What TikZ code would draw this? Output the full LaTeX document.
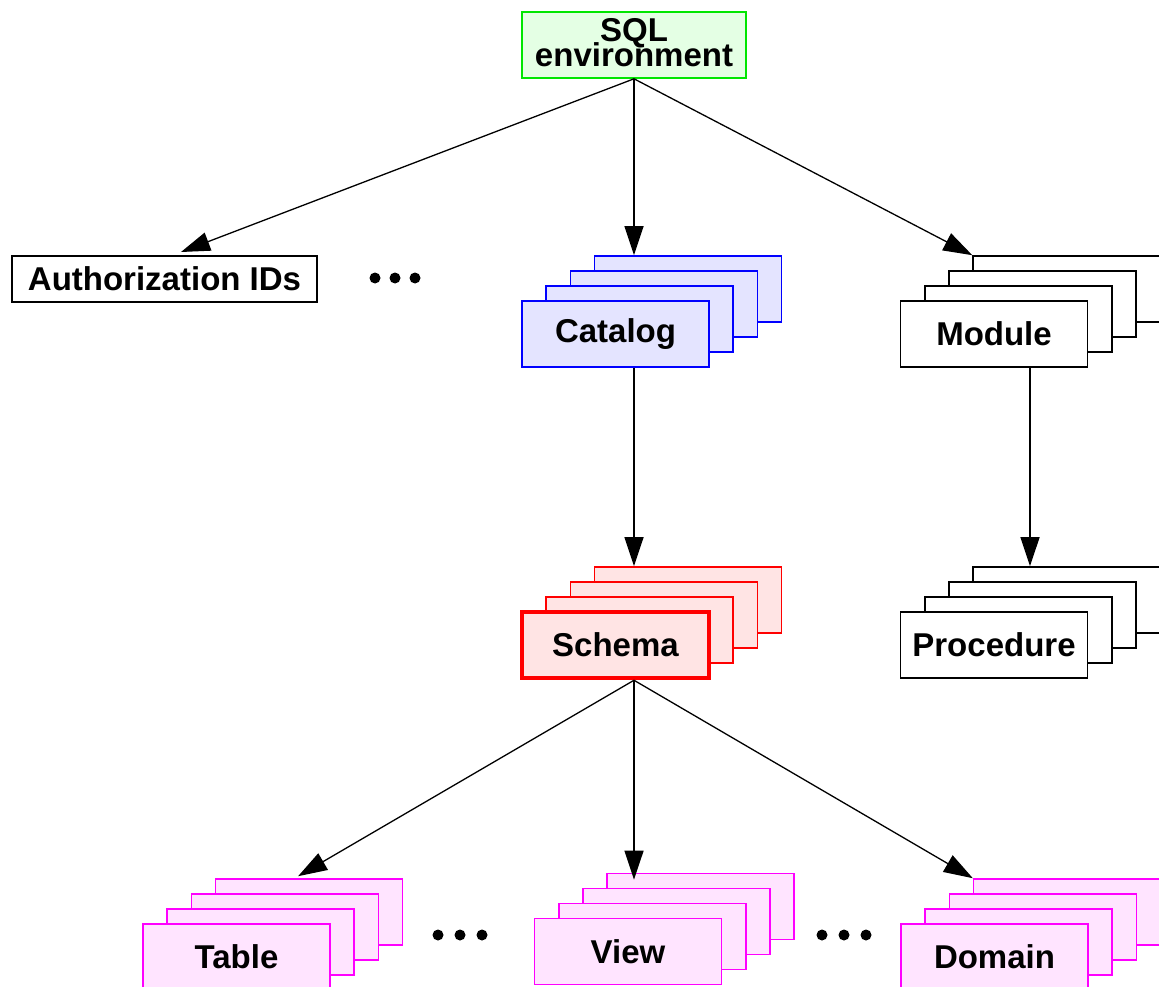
\documentclass[tikz,border=0pt]{standalone}
\usepackage{fontspec}
\setmainfont{Liberation Sans}
\usetikzlibrary{arrows.meta}
\definecolor{envfill}{RGB}{228,255,228}
\definecolor{envdraw}{RGB}{0,230,0}
\definecolor{catfill}{RGB}{228,228,255}
\definecolor{catdraw}{RGB}{0,0,255}
\definecolor{schfill}{RGB}{255,228,228}
\definecolor{schdraw}{RGB}{255,0,0}
\definecolor{objfill}{RGB}{255,228,255}
\definecolor{objdraw}{RGB}{255,0,255}
\newcommand\mytightlines{\lineskiplimit=-50pt\relax\lineskip=0pt\relax}
\begin{document}
\begin{tikzpicture}[x=1pt,y=-1pt,
  box/.style={draw, line width=1.6pt, minimum width=187pt, minimum height=66pt,
    inner sep=0pt, font=\fontsize{33}{36}\selectfont\bfseries, align=center},
  plainbox/.style={box, fill=white, draw=black},
  catbox/.style={box, fill=catfill, draw=catdraw},
  schbox/.style={box, fill=schfill, draw=schdraw},
  objbox/.style={box, fill=objfill, draw=objdraw},
  envbox/.style={box, fill=envfill, draw=envdraw, minimum width=224pt,
    font=\fontsize{33}{25}\selectfont\bfseries\mytightlines, text depth=6pt},
  authbox/.style={plainbox, minimum width=305pt, minimum height=46pt},
  arr/.style={line width=1.3pt, -{Triangle[length=29pt,width=19pt]}},
  dot/.style={fill=black}
]
\useasboundingbox (0,0) rectangle (1159,987);
\clip (0,0) rectangle (1159,987);

% top
\node[envbox] (sql) at (634,45) {SQL\\environment};
\node[authbox] (auth) at (164.5,279) {Authorization IDs};

% catalog stack
\foreach \i/\n in {3/cat4,2/cat3,1/cat2}
  \node[catbox] (\n) at (615.5+24.2*\i, 334-15*\i) {};
\node[catbox] (cat1) at (615.5,334) {Catalog};

% module stack
\foreach \i/\n in {3/mod4,2/mod3,1/mod2}
  \node[plainbox] (\n) at (994+24.2*\i, 334-15*\i) {};
\node[plainbox] (mod1) at (994,334) {Module};

% schema stack
\foreach \i/\n in {3/sch4,2/sch3,1/sch2}
  \node[schbox] (\n) at (615.5+24.2*\i, 645-15*\i) {};
\node[schbox, line width=4.5pt] (sch1) at (615.5,645) {Schema};

% procedure stack
\foreach \i/\n in {3/proc4,2/proc3,1/proc2}
  \node[plainbox] (\n) at (994+24.2*\i, 645-15*\i) {};
\node[plainbox] (proc1) at (994,645) {Procedure};

% table stack
\foreach \i/\n in {3/tab4,2/tab3,1/tab2}
  \node[objbox] (\n) at (236.5+24.2*\i, 957-15*\i) {};
\node[objbox] (tab1) at (236.5,957) {Table};

% view stack
\foreach \i/\n in {3/view4,2/view3,1/view2}
  \node[objbox] (\n) at (628+24.2*\i, 951.5-15*\i) {};
\node[objbox] (view1) at (628,951.5) {View};

% domain stack
\foreach \i/\n in {3/dom4,2/dom3,1/dom2}
  \node[objbox] (\n) at (994.5+24.2*\i, 957-15*\i) {};
\node[objbox] (dom1) at (994.5,957) {Domain};

% ellipses
\foreach \x in {375,395,415} \fill[dot] (\x,278) circle (5.5);
\foreach \x in {438,460,482} \fill[dot] (\x,935) circle (5.5);
\foreach \x in {822,844,866} \fill[dot] (\x,935) circle (5.5);

% connectors
\coordinate (authin) at (181,252);
\draw[arr] (sql.south) -- (authin);
\draw[arr] (sql.south) -- (sql.south |- cat4.north);
\draw[arr] (sql.south) -- (mod4.north west);
\coordinate (catout) at (cat1.south -| sql.south);
\draw[arr] (catout) -- (catout |- sch4.north);
\coordinate (modout) at ([xshift=36pt]mod1.south);
\draw[arr] (modout) -- (modout |- proc4.north);
\coordinate (schout) at (sch1.south -| sql.south);
\draw[arr] (schout) -- ([xshift=-11pt,yshift=2pt]tab4.north);
\draw[arr] (schout) -- ([yshift=-7pt]schout |- view4.north);
\draw[arr] (schout) -- (dom4.north west);
\end{tikzpicture}
\end{document}
